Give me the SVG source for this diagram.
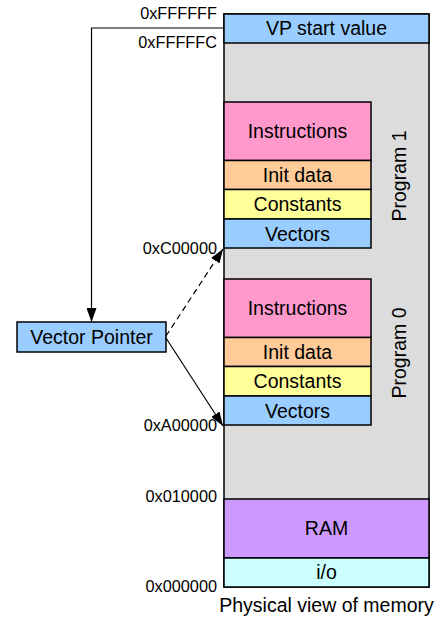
<svg xmlns="http://www.w3.org/2000/svg" width="446" height="619" viewBox="0 0 446 619">
  <defs>
    <marker id="arrowTall" viewBox="0 0 14 10" refX="14" refY="5" markerWidth="14" markerHeight="10" markerUnits="userSpaceOnUse" orient="auto">
      <path d="M0,0 L14,5 L0,10 z" fill="#000"/>
    </marker>
  </defs>
  <style>
    .box { stroke: #000; stroke-width: 1.5; }
    .lbl { font-family: "Liberation Sans", Arial, sans-serif; font-size: 19.5px; fill: #000; text-anchor: middle; }
    .addr { font-family: "Liberation Sans", Arial, sans-serif; font-size: 16.3px; fill: #000; text-anchor: end; }
    .wire { fill: none; stroke: #000; stroke-width: 1.2; }
  </style>
  <rect width="446" height="619" fill="#fff"/>

  <!-- memory column -->
  <g id="memory">
    <rect class="box" x="224" y="14" width="205" height="573" fill="#dcdcdc"/>
  </g>
  <g id="vp-start">
    <rect class="box" x="224" y="14" width="205" height="29" fill="#99ccff"/>
    <text class="lbl" x="326.5" y="35">VP start value</text>
  </g>

  <!-- program 1 -->
  <g id="program1">
    <rect class="box" x="224" y="102" width="147" height="58.5" fill="#ff99cc"/>
    <text class="lbl" x="297.5" y="138">Instructions</text>
    <rect class="box" x="224" y="160.5" width="147" height="29" fill="#ffcc99"/>
    <text class="lbl" x="297.5" y="182">Init data</text>
    <rect class="box" x="224" y="189.5" width="147" height="29.5" fill="#ffff99"/>
    <text class="lbl" x="297.5" y="211">Constants</text>
    <rect class="box" x="224" y="219" width="147" height="29" fill="#99ccff"/>
    <text class="lbl" x="297.5" y="241">Vectors</text>
    <text class="lbl" transform="translate(406,176) rotate(-90)">Program 1</text>
  </g>

  <!-- program 0 -->
  <g id="program0">
    <rect class="box" x="224" y="279" width="147" height="58.5" fill="#ff99cc"/>
    <text class="lbl" x="297.5" y="315">Instructions</text>
    <rect class="box" x="224" y="337.5" width="147" height="29" fill="#ffcc99"/>
    <text class="lbl" x="297.5" y="359">Init data</text>
    <rect class="box" x="224" y="366.5" width="147" height="29.5" fill="#ffff99"/>
    <text class="lbl" x="297.5" y="388">Constants</text>
    <rect class="box" x="224" y="396" width="147" height="29" fill="#99ccff"/>
    <text class="lbl" x="297.5" y="418">Vectors</text>
    <text class="lbl" transform="translate(406,353) rotate(-90)">Program 0</text>
  </g>

  <g id="ram">
    <rect class="box" x="224" y="499" width="205" height="59" fill="#cc99ff"/>
    <text class="lbl" x="326.5" y="535">RAM</text>
  </g>
  <g id="io">
    <rect class="box" x="224" y="558" width="205" height="29" fill="#ccffff"/>
    <text class="lbl" x="326.5" y="579">i/o</text>
  </g>

  <g id="vector-pointer">
    <rect class="box" x="17" y="322" width="149" height="30" fill="#99ccff"/>
    <text class="lbl" x="91.5" y="344">Vector Pointer</text>
  </g>

  <!-- address labels -->
  <g id="addresses">
    <text class="addr" x="217" y="19">0xFFFFFF</text>
    <text class="addr" x="217" y="48">0xFFFFFC</text>
    <text class="addr" x="217" y="254">0xC00000</text>
    <text class="addr" x="217" y="431">0xA00000</text>
    <text class="addr" x="217" y="502">0x010000</text>
    <text class="addr" x="217" y="592">0x000000</text>
  </g>

  <text class="lbl" x="326.5" y="612">Physical view of memory</text>

  <!-- connectors -->
  <g id="connectors">
    <path class="wire" d="M224,28 H91.5 V322" marker-end="url(#arrowTall)"/>
    <path class="wire" d="M166,336 L223,249" stroke-dasharray="6,4" marker-end="url(#arrowTall)"/>
    <path class="wire" d="M166,338 L223,426" marker-end="url(#arrowTall)"/>
  </g>
</svg>
